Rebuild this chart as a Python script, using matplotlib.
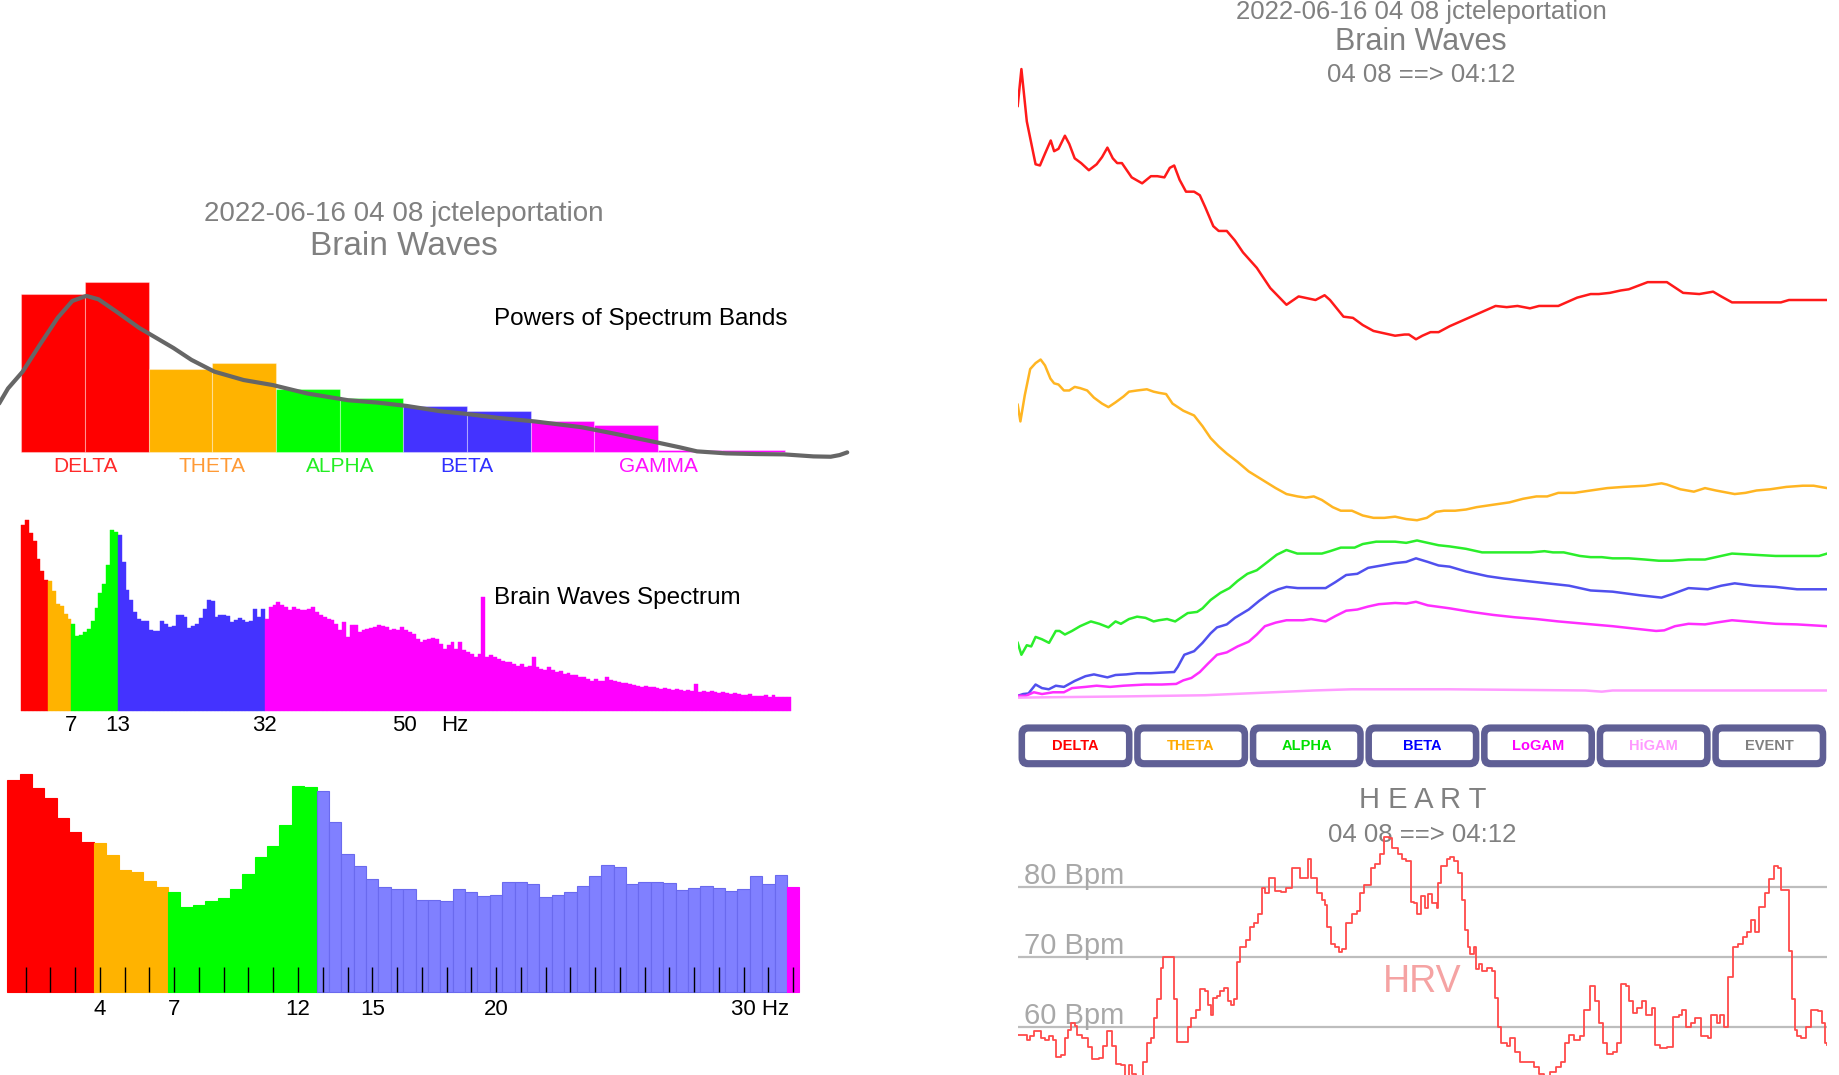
import numpy as np
import matplotlib
matplotlib.use('Agg')
import matplotlib.pyplot as plt
from matplotlib.patches import FancyBboxPatch

plt.rcParams['font.family'] = ['Liberation Sans', 'DejaVu Sans']

# ---- data ----
band_names = ['DELTA', 'THETA', 'ALPHA', 'BETA', 'GAMMA']
band_label_pos = [1, 3, 5, 7, 10]
band_powers = [47.2, 50.6, 24.9, 26.7, 18.9, 16.2, 13.8, 12.4, 9.4, 8.0, 0.8, 0.8]
band_of_bar = [0, 0, 1, 1, 2, 2, 3, 3, 4, 4, 4, 4]

# smoothed power curve over the band bars (bar index units)
curve_x = [-0.35, -0.21, 0.02, 0.29, 0.57, 0.80, 1.02, 1.21, 1.48, 1.85, 2.12, 2.39, 2.67,
           3.03, 3.49, 3.95, 4.49, 5.13, 5.59, 6.05, 6.59, 6.96, 7.51, 8.06, 8.79, 9.33,
           9.97, 10.34, 10.61, 11.07, 11.53, 11.98, 12.44, 12.71, 12.85, 12.97]
curve_y = [14.5, 19.0, 24.0, 32.0, 40.0, 45.0, 46.5, 45.5, 42.0, 37.0, 34.0, 31.0, 27.5,
           24.0, 21.5, 20.0, 17.5, 15.5, 14.8, 13.8, 12.2, 11.5, 10.2, 9.2, 7.5, 5.5,
           3.0, 1.5, 0.3, -0.3, -0.5, -0.6, -1.2, -1.3, -0.8, 0.0]

# spectrum, 0.5 Hz bins from 0.5 Hz to 99.5 Hz
spectrum = [
    636, 653, 611, 581, 521, 478, 448,
    445, 410, 366, 358, 333, 313,
    298, 255, 261, 271, 281, 308, 352, 403, 436, 501, 618, 613,
    601, 510, 413, 378, 337, 313, 307, 307, 276, 275, 273, 308, 298, 288, 291, 328,
    328, 322, 285, 290, 298, 317, 348, 381, 375, 323, 328, 328, 325, 305, 312, 318,
    311, 303, 308, 348, 322, 350,
    313,
    356, 362, 373, 362, 356, 345, 354, 350, 345, 345,
    350, 354, 339, 327, 322, 316, 310, 299, 276, 304,
    253, 293, 293, 270, 276, 281, 285, 287, 293, 290,
    287, 278, 281, 276, 287, 276, 270, 264, 247, 236,
    241, 247, 250, 247, 230, 213, 224, 236, 213, 236,
    207, 201, 195, 184, 195, 391, 184, 190, 184, 178,
    172, 167, 167, 159, 155, 159, 149, 152, 184, 149,
    144, 140, 149, 140, 132, 136, 126, 129, 124, 121,
    117, 115, 109, 103, 109, 103, 101, 115, 106, 101,
    98, 94, 94, 92, 90, 86, 83, 86, 80, 83,
    78, 75, 78, 75, 71, 75, 71, 69, 71, 69,
    92, 63, 69, 63, 67, 63, 60, 63, 60, 57,
    60, 57, 55, 55, 57, 52, 52, 52, 54, 48,
    54, 48, 48, 46, 48,
]
band_edges_hz = [4, 7, 13, 32]
wide_ticks = [7, 13, 32, 50]
zoom_ticks = [4, 7, 12, 15, 20]
zoom_max_hz = 32

# band power trends over the 4 minutes (seconds, power)
delta_t = [0, 1.1, 2.7, 5.3, 6.6, 8.1, 9.8, 10.8, 12.1, 14.0, 15.3, 16.9, 18.8, 21.1, 23.4,
           25.0, 26.6, 28.2, 29.5, 30.9, 33.8, 36.9, 39.5, 41.4, 43.5, 45.1, 46.4, 48.0,
           49.9, 52.3, 54.0, 55.6, 58.0, 59.6, 62.0, 64.4, 66.8, 70.9, 74.9, 79.7, 83.3,
           85.0, 88.3, 91.0, 92.6, 96.6, 99.4, 102.3, 105.5, 107.1, 111.9, 114.7, 116.0,
           118.1, 120.0, 122.4, 124.8, 128.1, 130.5, 134.5, 137.7, 141.7, 145.0, 148.2,
           151.9, 154.6, 160.3, 165.9, 169.9, 172.3, 175.6, 178.8, 181.2, 186.8, 190.9,
           192.5, 197.3, 202.1, 206.2, 208.6, 211.8, 218.2, 220.7, 226.3, 228.7, 240]
delta_p = [50.1, 53.2, 48.8, 45.2, 45.1, 46.1, 47.2, 46.3, 46.5, 47.6, 46.9, 45.7, 45.3,
           44.7, 45.2, 45.8, 46.6, 45.7, 45.3, 45.3, 44.1, 43.6, 44.2, 44.2, 44.1, 44.9,
           45.1, 43.9, 42.9, 42.9, 42.6, 41.6, 40.0, 39.6, 39.6, 38.8, 37.8, 36.5, 34.8,
           33.4, 34.1, 34.0, 33.8, 34.2, 33.8, 32.4, 32.3, 31.7, 31.2, 31.1, 30.8, 30.9,
           30.9, 30.5, 30.8, 31.1, 31.1, 31.6, 31.9, 32.4, 32.8, 33.3, 33.2, 33.3, 33.1,
           33.3, 33.3, 34.0, 34.3, 34.3, 34.4, 34.6, 34.7, 35.3, 35.3, 35.3, 34.4, 34.3,
           34.5, 34.1, 33.6, 33.6, 33.6, 33.6, 33.8, 33.8]

theta_t = [0, 0.8, 2.1, 3.7, 5.3, 6.8, 8.1, 9.7, 10.8, 12.1, 13.7, 15.3, 16.9, 18.5, 20.6,
           22.6, 25.0, 26.9, 29.0, 31.4, 33.0, 35.4, 38.3, 40.3, 41.9, 44.0, 45.9, 47.5,
           49.1, 52.3, 54.8, 57.2, 59.6, 62.0, 65.2, 68.5, 72.5, 76.5, 79.7, 83.0, 85.4,
           87.8, 90.2, 93.4, 95.8, 99.1, 102.3, 105.5, 108.7, 111.9, 115.2, 118.4, 121.3,
           124.0, 126.4, 129.7, 132.9, 136.1, 140.9, 145.8, 149.8, 153.8, 157.0, 160.3,
           165.1, 169.9, 174.8, 179.6, 186.0, 190.9, 192.5, 196.5, 200.5, 203.8, 207.0,
           212.6, 215.8, 219.1, 223.1, 227.9, 232.8, 236.0, 240]
theta_p = [25.0, 23.6, 25.8, 28.0, 28.5, 28.8, 28.3, 27.2, 26.8, 26.7, 26.2, 26.2, 26.5,
           26.4, 26.2, 25.6, 25.1, 24.8, 25.2, 25.7, 26.1, 26.2, 26.3, 26.1, 26.0, 25.9,
           25.1, 24.8, 24.5, 24.1, 23.2, 22.2, 21.5, 20.9, 20.2, 19.4, 18.7, 18.0, 17.5,
           17.3, 17.2, 17.3, 17.0, 16.4, 16.1, 16.1, 15.7, 15.5, 15.5, 15.6, 15.4, 15.3,
           15.5, 16.0, 16.1, 16.1, 16.2, 16.4, 16.6, 16.8, 17.1, 17.3, 17.3, 17.6, 17.6,
           17.8, 18.0, 18.1, 18.2, 18.4, 18.3, 17.9, 17.7, 18.0, 17.8, 17.5, 17.6, 17.8,
           17.9, 18.1, 18.2, 18.2, 18.0]

alpha_t = [0, 1.1, 2.7, 4.0, 5.3, 7.2, 9.3, 11.3, 12.4, 14.0, 16.1, 18.5, 21.7, 24.2, 26.9,
           29.0, 30.6, 33.0, 35.4, 37.9, 40.3, 41.9, 44.3, 46.7, 48.3, 50.4, 53.2, 54.8,
           57.2, 60.1, 62.8, 65.2, 68.1, 70.9, 74.1, 76.8, 79.7, 82.9, 86.9, 90.2, 92.6,
           95.8, 99.9, 102.3, 106.3, 109.5, 111.9, 115.2, 118.4, 121.6, 124.8, 128.1,
           132.9, 137.7, 140.9, 145.8, 152.2, 156.2, 158.7, 161.9, 166.7, 169.9, 173.2,
           176.4, 181.2, 186.0, 190.1, 194.1, 198.9, 203.8, 205.4, 208.6, 211.8, 218.2,
           224.7, 227.9, 234.3, 237.6, 240]
alpha_p = [5.0, 4.0, 4.8, 4.7, 5.5, 5.3, 5.0, 6.0, 6.0, 5.7, 6.0, 6.4, 6.8, 6.6, 6.3, 6.8,
           6.6, 7.0, 7.2, 7.1, 6.8, 6.9, 7.0, 6.8, 7.1, 7.5, 7.6, 7.9, 8.6, 9.2, 9.6, 10.2,
           10.8, 11.1, 11.8, 12.4, 12.8, 12.5, 12.5, 12.5, 12.7, 13.0, 13.0, 13.3, 13.5,
           13.5, 13.5, 13.4, 13.6, 13.4, 13.2, 13.1, 12.9, 12.6, 12.6, 12.6, 12.6, 12.7,
           12.6, 12.6, 12.3, 12.2, 12.2, 12.1, 12.1, 12.0, 11.9, 11.9, 12.0, 12.0, 12.1,
           12.3, 12.5, 12.4, 12.3, 12.3, 12.3, 12.3, 12.5]

beta_t = [0, 1.6, 3.2, 5.3, 7.2, 9.2, 11.3, 13.7, 15.3, 16.9, 20.1, 22.6, 25.0, 26.6, 29.0,
          32.2, 35.4, 39.5, 42.7, 46.4, 47.5, 49.4, 52.3, 54.8, 57.2, 59.1, 62.0, 64.4,
          68.5, 71.7, 74.9, 77.3, 79.7, 83.0, 87.0, 91.3, 94.2, 97.4, 100.7, 103.9, 107.9,
          111.9, 115.2, 118.1, 121.6, 124.8, 128.1, 132.9, 139.3, 144.2, 150.6, 157.0,
          163.5, 169.9, 176.4, 184.4, 190.9, 194.1, 198.9, 204.6, 208.6, 212.6, 218.2,
          224.7, 231.1, 240]
beta_p = [0.55, 0.7, 0.75, 1.5, 1.2, 1.1, 1.4, 1.3, 1.55, 1.8, 2.2, 2.35, 2.2, 2.1, 2.3,
          2.35, 2.45, 2.45, 2.5, 2.55, 3.0, 4.0, 4.3, 5.0, 5.8, 6.3, 6.55, 7.1, 7.8, 8.55,
          9.2, 9.5, 9.7, 9.6, 9.6, 9.6, 10.1, 10.7, 10.8, 11.3, 11.5, 11.7, 11.8, 12.1,
          11.8, 11.5, 11.4, 11.0, 10.6, 10.4, 10.2, 10.0, 9.8, 9.4, 9.3, 9.0, 8.8, 9.1,
          9.6, 9.5, 9.8, 10.0, 9.8, 9.7, 9.5, 9.5]

logam_t = [0, 2.4, 4.8, 7.2, 10.5, 13.7, 16.1, 20.1, 23.4, 27.4, 31.4, 37.9, 42.7, 47.0,
           49.1, 51.5, 54.0, 56.4, 59.1, 62.0, 65.2, 68.5, 70.9, 73.3, 76.5, 79.7, 84.6,
           87.0, 91.3, 94.2, 97.4, 100.7, 103.9, 107.1, 111.9, 115.2, 118.1, 121.6, 128.1,
           134.5, 140.9, 147.4, 153.8, 160.3, 168.3, 176.4, 182.8, 189.3, 191.7, 194.9,
           198.9, 203.8, 207.0, 211.8, 218.2, 224.7, 231.1, 240]
logam_p = [0.55, 0.55, 0.85, 0.7, 0.85, 0.85, 1.2, 1.3, 1.4, 1.3, 1.4, 1.5, 1.5, 1.55, 1.85,
           2.05, 2.55, 3.25, 4.0, 4.2, 4.7, 5.1, 5.7, 6.4, 6.7, 6.9, 6.9, 7.0, 6.8, 7.25,
           7.7, 7.8, 8.05, 8.25, 8.35, 8.3, 8.45, 8.15, 7.9, 7.6, 7.35, 7.15, 7.0, 6.8,
           6.6, 6.4, 6.2, 6.0, 6.05, 6.4, 6.6, 6.55, 6.7, 6.9, 6.75, 6.6, 6.55, 6.4]

higam_t = [0, 31.4, 55.6, 71.7, 87.8, 99.1, 128.1, 168.3, 173.2, 176.4, 240]
higam_p = [0.4, 0.5, 0.6, 0.8, 1.0, 1.1, 1.1, 1.0, 0.9, 1.0, 1.0]

band_series = [(delta_t, delta_p, '#FF1A1A'), (theta_t, theta_p, '#FFB522'),
               (alpha_t, alpha_p, '#2BEE2B'), (beta_t, beta_p, '#5050EE'),
               (logam_t, logam_p, '#FF2EFF'), (higam_t, higam_p, '#FF9CFF')]

buttons = ['DELTA', 'THETA', 'ALPHA', 'BETA', 'LoGAM', 'HiGAM', 'EVENT']
button_colors = ['#FF0000', '#FFAA00', '#00E000', '#0000FF', '#FF00FF', '#FF99FF', '#808080']

# heart rate (seconds, bpm)
hrv_t = [0.0, 1.6, 2.7, 3.7, 4.8, 6.0, 6.9, 8.1, 9.2, 10.5, 11.4, 12.9, 14.0, 14.8, 15.8,
         16.9, 17.7, 19.0, 20.1, 20.9, 22.1, 24.2, 25.3, 26.6, 27.9, 29.0, 30.6, 31.7,
         33.0, 33.8, 35.0, 36.2, 37.2, 38.2, 39.5, 40.3, 41.4, 42.4, 43.0, 45.9, 46.4,
         47.2, 49.1, 50.4, 51.5, 52.8, 54.0, 55.6, 56.4, 57.2, 58.0, 59.1, 60.1, 61.2,
         62.3, 63.3, 64.1, 64.9, 66.0, 67.7, 68.8, 70.1, 71.4, 72.5, 73.3, 74.4, 75.2,
         76.2, 78.1, 79.7, 81.3, 82.9, 83.8, 84.9, 86.2, 87.0, 88.6, 90.2, 91.0, 91.8,
         92.9, 94.2, 95.4, 96.3, 97.4, 99.1, 100.7, 101.6, 102.8, 104.7, 106.0, 107.4,
         108.7, 110.0, 111.1, 112.7, 113.9, 115.2, 116.5, 117.6, 118.4, 119.7, 120.8,
         121.6, 122.9, 124.2, 124.5, 125.6, 127.2, 128.1, 129.3, 130.5, 131.6, 132.6,
         133.4, 134.2, 135.3, 135.8, 136.9, 137.7, 139.3, 140.6, 141.4, 142.5, 143.4,
         145.0, 146.1, 147.4, 149.0, 151.4, 153.0, 154.6, 156.2, 157.8, 159.5, 161.1,
         162.2, 163.5, 165.1, 166.7, 168.0, 169.6, 171.2, 172.3, 173.5, 174.8, 176.4,
         177.7, 178.8, 180.4, 181.2, 182.5, 183.6, 185.2, 186.4, 188.0, 188.9, 190.5,
         192.5, 194.4, 196.0, 197.0, 198.3, 199.7, 200.9, 202.5, 204.6, 205.7, 207.3,
         208.3, 209.4, 210.5, 212.1, 213.7, 215.0, 216.3, 217.4, 218.6, 219.9, 221.5,
         222.8, 224.4, 225.5, 226.3, 227.9, 228.7, 229.5, 230.5, 231.1, 232.4, 233.6,
         235.2, 237.3, 238.4, 239.5, 240.0]
hrv_bpm = [58.9, 58.9, 58.2, 58.7, 59.4, 59.5, 58.5, 58.2, 58.8, 58.2, 55.8,
           56.0, 58.5, 59.6, 60.6, 60.2, 58.9, 58.4, 58.5, 57.2, 55.5,
           55.6, 57.4, 59.4, 57.4, 54.8, 54.6, 53.1, 54.6, 53.3, 52.4,
           53.1, 55.0, 57.7, 58.5, 61.3, 64.0, 68.4, 70.0, 70.0, 64.0,
           57.9, 57.9, 60.1, 61.3, 62.5, 65.4, 65.1, 63.2, 61.8, 64.2,
           64.4, 65.2, 65.6, 63.7, 63.2, 64.0, 69.3, 71.4, 72.4, 74.3,
           74.8, 76.2, 79.9, 79.1, 81.3, 81.3, 79.4, 79.3, 79.9, 82.7,
           82.7, 81.3, 81.3, 84.0, 81.3, 79.1, 78.2, 77.4, 74.3, 71.9,
           71.5, 70.7, 71.2, 74.8, 76.2, 76.5, 79.1, 80.3, 82.7, 83.2,
           84.7, 87.1, 86.9, 85.6, 84.7, 84.0, 83.7, 77.9, 77.7, 76.2,
           78.7, 77.0, 79.0, 77.7, 77.0, 80.6, 83.0, 84.0, 84.3, 83.7,
           82.0, 78.2, 73.8, 71.4, 70.5, 71.4, 68.3, 69.0, 68.0, 68.5,
           68.0, 64.2, 60.1, 57.7, 57.4, 58.4, 56.5, 55.0, 55.0, 54.3,
           53.3, 52.6, 53.6, 54.3, 55.0, 57.7, 58.9, 58.2, 58.8, 62.5,
           65.9, 63.7, 60.6, 57.7, 56.2, 56.5, 57.7, 66.2, 65.9, 63.7,
           62.0, 62.7, 63.8, 61.8, 62.7, 57.5, 57.0, 57.2, 61.5, 61.8,
           62.5, 60.1, 60.6, 61.3, 58.7, 58.4, 61.8, 60.6, 61.8, 60.1,
           67.1, 71.4, 71.9, 72.9, 73.6, 75.3, 73.6, 77.2, 79.1, 81.1,
           83.0, 82.7, 79.6, 79.6, 70.9, 64.0, 59.6, 58.7, 58.4, 60.1,
           62.5, 62.3, 60.6, 57.7, 57.5]
bpm_lines = [60, 70, 80]

BAND_COLORS = ['#FF0000', '#FFB300', '#00FF00', '#4433FF', '#FF00FF']
LABEL_COLORS = ['#FF2A2A', '#FF9A35', '#22EE22', '#3030FF', '#FF10FF']
GRAY = '#808080'

# layout is measured on a 1545 x 903 grid of the reference
REF_W, REF_H = 1545.0, 903.0

fig = plt.figure(figsize=(18.39, 10.75), dpi=100)


def place(x0, y0, x1, y1):
    ax = fig.add_axes([x0 / REF_W, 1 - y1 / REF_H, (x1 - x0) / REF_W, (y1 - y0) / REF_H])
    ax.set_axis_off()
    return ax


def ftext(x, y, s, **kw):
    fig.text(x / REF_W, 1 - y / REF_H, s, ha='center', va='center', **kw)


def band_index(f):
    for i, edge in enumerate(band_edges_hz):
        if f < edge:
            return i
    return len(band_edges_hz)


# ---------- left titles ----------
ftext(339, 180, '2022-06-16 04 08 jcteleportation', fontsize=20, color=GRAY)
ftext(339, 207, 'Brain Waves', fontsize=24, color=GRAY)

# ---------- powers of spectrum bands ----------
ax1 = place(0, 222, 715, 400)
ax1.bar(np.arange(len(band_powers)), band_powers, width=1, align='edge',
        color=[BAND_COLORS[b] for b in band_of_bar], edgecolor=(1, 1, 1, 0.35), linewidth=0.8)
ax1.plot(curve_x, curve_y, color='#666666', lw=3, solid_capstyle='round',
         solid_joinstyle='round')
for name, xp, col in zip(band_names, band_label_pos, LABEL_COLORS):
    ax1.text(xp, -4.25, name, ha='center', va='center', fontsize=15, color=col)
ax1.text(7.42, 39.6, 'Powers of Spectrum Bands', ha='left', va='center', fontsize=17.5,
         color='black')
ax1.set_xlim(-0.336, 13.03)
ax1.set_ylim(-7.08, 55.9)

# ---------- wide spectrum ----------
freqs = 0.5 * (np.arange(len(spectrum)) + 1)
spec_cols = [BAND_COLORS[band_index(f)] for f in freqs]
ax2 = place(0, 430, 715, 625)
ax2.bar(freqs, spectrum, width=0.5, align='edge', color=spec_cols, edgecolor=spec_cols,
        linewidth=0.3)
for f in wide_ticks:
    ax2.text(f, -49, str(f), ha='center', va='center', fontsize=16, color='black')
ax2.text(56.5, -49, 'Hz', ha='center', va='center', fontsize=16, color='black')
ax2.text(61.6, 388, 'Brain Waves Spectrum', ha='left', va='center', fontsize=17.5,
         color='black')
ax2.set_xlim(-2.231, 107.77)
ax2.set_ylim(-114, 681.6)

# ---------- zoomed spectrum 0-32 Hz ----------
zsel = freqs <= zoom_max_hz
zf = freqs[zsel]
zv = np.array(spectrum)[zsel]
zoom_cols = ['#8080FF' if band_index(f) == 3 else BAND_COLORS[band_index(f)] for f in zf]
zoom_edges = ['#6A6AEE' if band_index(f) == 3 else c for f, c in zip(zf, zoom_cols)]
ax3 = place(0, 640, 715, 870)
ax3.bar(zf, zv, width=0.5, align='center', color=zoom_cols, edgecolor=zoom_edges,
        linewidth=0.8)
ax3.vlines(np.arange(1, zoom_max_hz + 1), 0, 74, color='black', lw=1)
for f in zoom_ticks:
    ax3.text(f, -53.5, str(f), ha='center', va='center', fontsize=16, color='black')
ax3.text(29.5, -53.5, '30 Hz', ha='left', va='center', fontsize=16, color='black')
ax3.set_xlim(-0.038, 34.34)
ax3.set_ylim(-132, 688.8)

# ---------- right: band trends ----------
ftext(1194, 10, '2022-06-16 04 08 jcteleportation', fontsize=18.5, color=GRAY)
ftext(1194, 35, 'Brain Waves', fontsize=22, color=GRAY)
ftext(1194, 63, '04 08 ==> 04:12', fontsize=18.5, color=GRAY)

axr = place(855, 50, 1535, 590)
for t, p, col in band_series:
    axr.plot(t, p, color=col, lw=1.8, solid_joinstyle='round')
axr.set_xlim(0, 240)
axr.set_ylim(0, 54)

# ---------- buttons ----------
axb = place(855, 608, 1535, 645)
bw = 680 / len(buttons)
for i, (name, col) in enumerate(zip(buttons, button_colors)):
    x0 = i * bw + 0.7
    w = bw - 1.4
    axb.add_patch(FancyBboxPatch((x0, 0.5), w, 36, boxstyle='round,pad=0,rounding_size=8',
                                 facecolor='#5F5F95', edgecolor='none'))
    axb.add_patch(FancyBboxPatch((x0 + 5.5, 6.5), w - 11, 24,
                                 boxstyle='round,pad=0,rounding_size=3',
                                 facecolor='white', edgecolor='none'))
    axb.text(x0 + w / 2, 18.5, name, ha='center', va='center', fontsize=10.5,
             fontweight='bold', color=col)
axb.set_xlim(0, 680)
axb.set_ylim(0, 37)

# ---------- heart ----------
ftext(1195, 672, 'H E A R T', fontsize=21, color=GRAY)

axh = place(855, 686, 1535, 903)
for b in bpm_lines:
    axh.axhline(b, color='#BDBDBD', lw=1.6, zorder=1)
    axh.text(1.8, b + 1.55, f'{b} Bpm', ha='left', va='center', fontsize=21,
             color='#A8A8A8', zorder=1)
axh.text(120, 66.4, 'HRV', ha='center', va='center', fontsize=27, color='#F5A3A3', zorder=1)
axh.text(1195 / REF_W, 1 - 701 / REF_H, '04 08 ==> 04:12', transform=fig.transFigure,
         ha='center', va='center', fontsize=18.5, color=GRAY, zorder=2)
axh.plot(hrv_t, hrv_bpm, drawstyle='steps-post', color='#FF4A4A', lw=1.3, zorder=3)
axh.set_xlim(0, 240)
axh.set_ylim(53.2, 90)

fig.savefig('out.png', dpi=100)
